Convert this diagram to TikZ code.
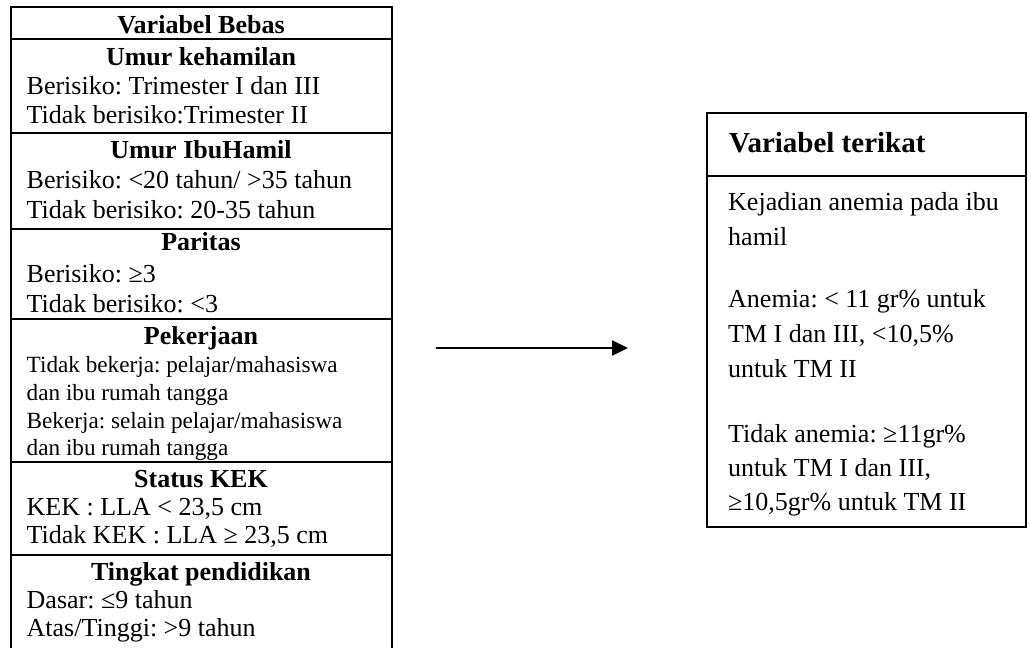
\documentclass[tikz,border=0pt]{standalone}
\usepackage{fontspec}
\setmainfont{Liberation Serif}
\usetikzlibrary{arrows.meta}
\frenchspacing
\begin{document}
\begin{tikzpicture}[x=1pt,y=-1pt,
  boxline/.style={line width=1.8pt},
  body/.style={anchor=base west,inner sep=0pt,font=\fontsize{26}{30}\selectfont},
  small/.style={anchor=base west,inner sep=0pt,font=\fontsize{23.2}{28}\selectfont},
  title/.style={anchor=base,inner sep=0pt,font=\fontsize{26}{30}\selectfont\bfseries},
  rtitle/.style={anchor=base west,inner sep=0pt,font=\fontsize{29}{34}\selectfont\bfseries},
  arrowline/.style={line width=2.3pt,-{Triangle[length=16pt,width=15pt]}}]
\useasboundingbox (0,0) rectangle (1029,648);
% left box
\draw[boxline] (10.7,648) -- (10.7,7) -- (391.7,7) -- (391.7,648);
\foreach \yy in {39,133,229,319,462,555}{\draw[boxline] (10.7,\yy) -- (391.7,\yy);}
\node[title] (h1) at (201,33) {Variabel Bebas};
\node[title] (t1) at (201,65) {Umur kehamilan};
\node[body] (l11) at (26.5,94) {Berisiko: Trimester I dan III};
\node[body] (l12) at (26.5,123) {Tidak berisiko:Trimester II};
\node[title] (t2) at (201,158) {Umur IbuHamil};
\node[body] (l21) at (26.5,188) {Berisiko: <20 tahun/ >35 tahun};
\node[body] (l22) at (26.5,218) {Tidak berisiko: 20-35 tahun};
\node[title] (t3) at (201,250.5) {Paritas};
\node[body] (l31) at (26.5,282) {Berisiko: ≥3};
\node[body] (l32) at (26.5,312) {Tidak berisiko: <3};
\node[title] (t4) at (201,344) {Pekerjaan};
\node[small] (l41) at (26.5,372) {Tidak bekerja: pelajar/mahasiswa};
\node[small] (l42) at (26.5,400) {dan ibu rumah tangga};
\node[small] (l43) at (26.5,428) {Bekerja: selain pelajar/mahasiswa};
\node[small] (l44) at (26.5,455) {dan ibu rumah tangga};
\node[title] (t5) at (201,487) {Status KEK};
\node[body] (l51) at (26.5,515) {KEK : LLA < 23,5 cm};
\node[body] (l52) at (26.5,543) {Tidak KEK : LLA ≥ 23,5 cm};
\node[title] (t6) at (201,580) {Tingkat pendidikan};
\node[body] (l61) at (26.5,608) {Dasar: ≤9 tahun};
\node[body] (l62) at (26.5,636.5) {Atas/Tinggi: >9 tahun};
% arrow
\coordinate (a1) at (436,348);
\coordinate (a2) at (628,348);
\draw[arrowline] (a1) -- (a2);
% right box
\draw[boxline] (706.7,113) rectangle (1026.3,526.7);
\draw[boxline] (706.7,176) -- (1026.3,176);
\node[rtitle] (h2) at (729,152) {Variabel terikat};
\node[body] (r1) at (728,210.5) {Kejadian anemia pada ibu};
\node[body] (r2) at (728,245.5) {hamil};
\node[body] (r3) at (728,307.5) {Anemia: < 11 gr\% untuk};
\node[body] (r4) at (728,342.5) {TM I dan III, <10,5\%};
\node[body] (r5) at (728,377.5) {untuk TM II};
\node[body] (r6) at (728,442) {Tidak anemia: ≥11gr\%};
\node[body] (r7) at (728,476) {untuk TM I dan III,};
\node[body] (r8) at (728,510) {≥10,5gr\% untuk TM II};
\end{tikzpicture}
\end{document}
